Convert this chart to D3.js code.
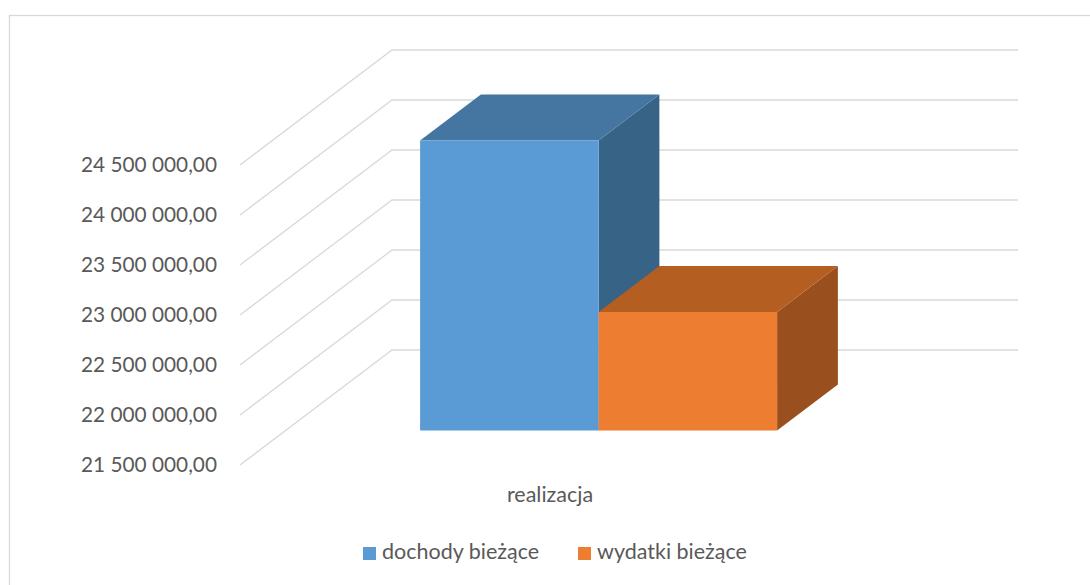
<!DOCTYPE html>
<html>
<head>
<meta charset="utf-8">
<script src="https://cdn.jsdelivr.net/npm/d3@7"></script>
<style>
  html, body { margin: 0; padding: 0; background: #fff; }
  text { font-family: Lato, "Open Sans", sans-serif; fill: #595959; }
</style>
</head>
<body>
<svg id="chart" width="1090" height="585"></svg>
<script>
// ---- data ----
const categories = ["realizacja"];
const seriesNames = ["dochody bieżące", "wydatki bieżące"];
const seriesValues = [24400000, 22684000];
const tickValues = [21500000, 22000000, 22500000, 23000000, 23500000, 24000000, 24500000];
const seriesColors = ["#5B9BD5", "#ED7D31"];
const topColors = ["#4576A1", "#B55E21"];
const sideColors = ["#376387", "#9A501E"];

// ---- layout ----
const svg = d3.select("#chart");
const W = 1090, H = 585;
const DX = 152, DY = 115;           // full depth offset of the wall
const barD0 = 0.3, barD1 = 0.7;     // bar depth slice

const y = d3.scaleLinear().domain([21500000, 24500000]).range([465, 165]);
const x0 = d3.scaleBand().domain(categories).range([240, 866]).padding(0);
const x1 = d3.scaleBand().domain(seriesNames).range([0, x0.bandwidth()]).paddingInner(0).paddingOuter(0.7535);

const P = (x, yy, d) => [x + d * DX, yy - d * DY];

// chart border
svg.append("rect").attr("x", 9.5).attr("y", 15.5).attr("width", W + 20).attr("height", H + 20)
  .attr("fill", "none").attr("stroke", "#d9d9d9").attr("stroke-width", 1.3);

// gridlines (side wall + back wall)
const line = d3.line();
svg.append("g").selectAll("path").data(tickValues).join("path")
  .attr("d", t => line([P(240, y(t), 0), P(240, y(t), 1), [1018, y(t) - DY]]))
  .attr("fill", "none").attr("stroke", "#d9d9d9").attr("stroke-width", 1.3);

// y-axis labels
const fmt = v => d3.format(",.2f")(v).replace(/,/g, " ").replace(".", ",");
svg.append("g").selectAll("text").data(tickValues).join("text")
  .attr("x", 217).attr("y", t => y(t) + 2).attr("text-anchor", "end")
  .attr("dominant-baseline", "middle").attr("font-size", 20.8)
  .text(fmt);

// bars
const bars = svg.append("g");
seriesNames.forEach((s, i) => {
  const cat = categories[0];
  const xl = x0(cat) + x1(s), xr = xl + x1.bandwidth();
  const yt = y(seriesValues[i]), yb = y(21500000);
  const g = bars.append("g");
  const f = [P(xl, yt, barD0), P(xr, yt, barD0), P(xr, yb, barD0), P(xl, yb, barD0)];
  const tp = [P(xl, yt, barD0), P(xr, yt, barD0), P(xr, yt, barD1), P(xl, yt, barD1)];
  const sd = [P(xr, yt, barD0), P(xr, yt, barD1), P(xr, yb, barD1), P(xr, yb, barD0)];
  g.append("path").attr("d", "M" + sd.join("L") + "Z").attr("fill", sideColors[i]);
  g.append("path").attr("d", "M" + tp.join("L") + "Z").attr("fill", topColors[i]);
  g.append("path").attr("d", "M" + f.join("L") + "Z").attr("fill", seriesColors[i]);
});

// category label
svg.append("text").attr("x", x0(categories[0]) + x0.bandwidth() / 2 - 3).attr("y", 497)
  .attr("text-anchor", "middle").attr("dominant-baseline", "middle").attr("font-size", 21.5)
  .text(categories[0]);

// legend
const legendX = [363, 578];
const lg = svg.append("g");
seriesNames.forEach((s, i) => {
  lg.append("rect").attr("x", legendX[i]).attr("y", 547).attr("width", 13).attr("height", 13)
    .attr("fill", seriesColors[i]);
  lg.append("text").attr("x", legendX[i] + 19).attr("y", 554).attr("dominant-baseline", "middle")
    .attr("font-size", 21.5).text(s);
});
</script>
</body>
</html>
